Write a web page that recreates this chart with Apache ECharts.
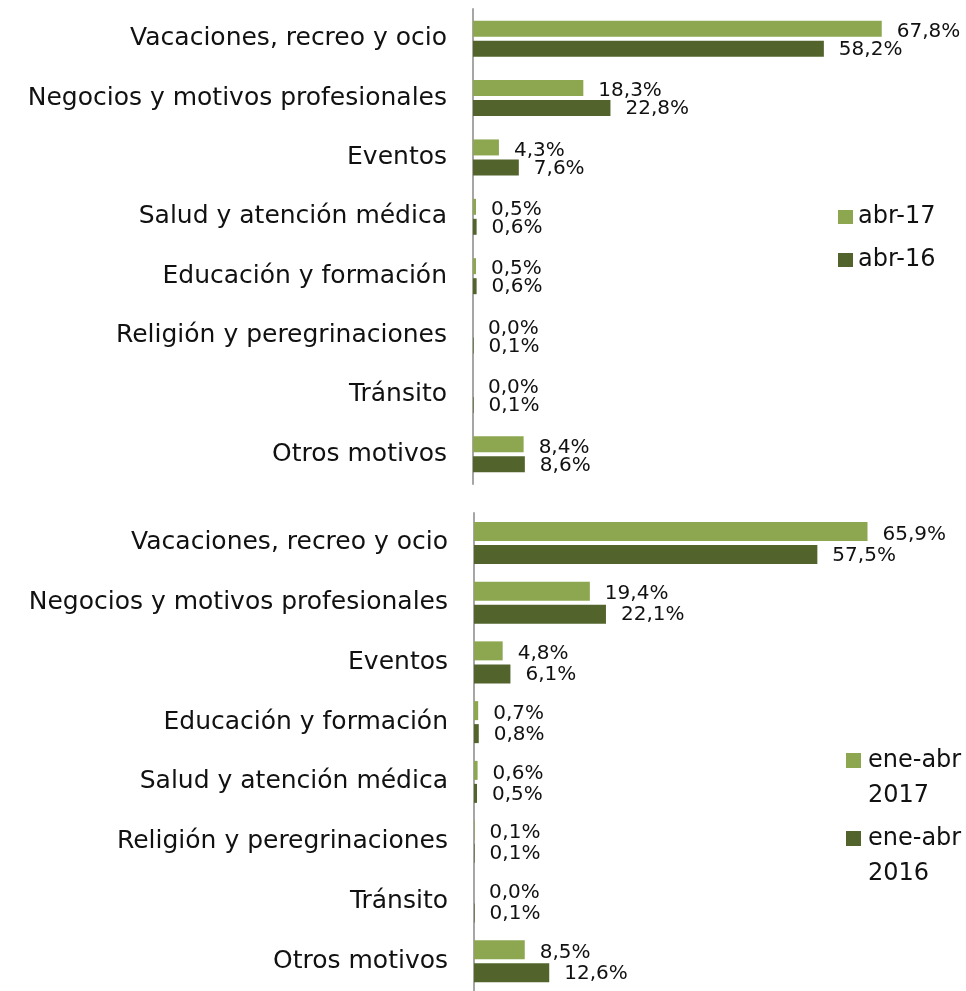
<!DOCTYPE html>
<html>
<head>
<meta charset="utf-8">
<script src="https://cdn.jsdelivr.net/npm/echarts@6/dist/echarts.min.js"></script>
<style>
    html, body {
        margin: 0;
        padding: 0;
        background: #fff;
    }
    #chart {
        width: 966px;
        height: 991px;
    }
</style>
</head>
<body>
<div id="chart"></div>
<script>
    // categorías (de arriba a abajo)
    var catAbril = ['Vacaciones, recreo y ocio', 'Negocios y motivos profesionales', 'Eventos',
        'Salud y atención médica', 'Educación y formación', 'Religión y peregrinaciones', 'Tránsito', 'Otros motivos']
    var catAcum = ['Vacaciones, recreo y ocio', 'Negocios y motivos profesionales', 'Eventos',
        'Educación y formación', 'Salud y atención médica', 'Religión y peregrinaciones', 'Tránsito', 'Otros motivos']

    // nombres de series
    var seriesAbril = ['abr-17', 'abr-16']
    var seriesAcum = ['ene-abr 2017', 'ene-abr 2016']

    // valores (%)
    var abr17 = [67.8, 18.3, 4.3, 0.5, 0.5, 0.0, 0.0, 8.4]
    var abr16 = [58.2, 22.8, 7.6, 0.6, 0.6, 0.1, 0.1, 8.6]
    var eneAbr17 = [65.9, 19.4, 4.8, 0.7, 0.6, 0.1, 0.0, 8.5]
    var eneAbr16 = [57.5, 22.1, 6.1, 0.8, 0.5, 0.1, 0.1, 12.6]

    var claro = '#8ca750'
    var oscuro = '#52642c'
    var fuente = 'DejaVu Sans'

    function etiqueta (dy) {
        return {
            show: true,
            position: 'right',
            distance: 15,
            offset: [0, dy],
            color: '#111',
            fontFamily: fuente,
            fontSize: 20,
            formatter: function (p) {
                return p.value.toFixed(1).replace('.', ',') + '%'
            }
        }
    }

    function ejeY (idx, cats) {
        return {
            type: 'category',
            gridIndex: idx,
            data: cats,
            inverse: true,
            axisTick: {show: false},
            axisLine: {lineStyle: {color: '#a6a6a6', width: 2}},
            axisLabel: {
                margin: 26,
                color: '#111',
                fontFamily: fuente,
                fontSize: 25,
                padding: [6, 0, 0, 0]
            }
        }
    }

    function ejeX (idx) {
        return {
            type: 'value',
            gridIndex: idx,
            min: 0,
            max: 70,
            show: false
        }
    }

    function barra (name, data, idx, color, w, dy) {
        return {
            name: name,
            type: 'bar',
            xAxisIndex: idx,
            yAxisIndex: idx,
            data: data,
            barWidth: w,
            barGap: (4 / w * 100) + '%',
            itemStyle: {color: color},
            label: etiqueta(dy),
            animation: false
        }
    }

    var textoLeyenda = {
        color: '#111',
        fontFamily: fuente,
        fontSize: 24
    }

    // leyenda de dos líneas, con la primera línea a la altura del cuadrado
    function leyendaAcum (name, top) {
        return {
            data: [name],
            orient: 'vertical',
            left: 846,
            top: top,
            padding: 0,
            itemWidth: 15,
            itemHeight: 15,
            icon: 'rect',
            formatter: function (n) { return '\n' + n.replace(' ', '\n') },
            textStyle: Object.assign({lineHeight: 35, padding: [0, 0, 0, 2]}, textoLeyenda)
        }
    }

    var chart = echarts.init(document.getElementById('chart'))
    chart.setOption({
        backgroundColor: '#fff',
        animation: false,
        grid: [
            {left: 473, top: 9, width: 422, height: 475},
            {left: 474, top: 513, width: 418, height: 487}
        ],
        xAxis: [ejeX(0), ejeX(1)],
        yAxis: [ejeY(0, catAbril), ejeY(1, catAcum)],
        legend: [
            {
                data: seriesAbril,
                orient: 'vertical',
                left: 838,
                top: 204,
                padding: 0,
                itemWidth: 15,
                itemHeight: 14,
                itemGap: 17,
                icon: 'rect',
                textStyle: Object.assign({lineHeight: 26}, textoLeyenda)
            },
            leyendaAcum(seriesAcum[0], 708),
            leyendaAcum(seriesAcum[1], 786)
        ],
        series: [
            barra(seriesAbril[0], abr17, 0, claro, 16, 3),
            barra(seriesAbril[1], abr16, 0, oscuro, 16, 1),
            barra(seriesAcum[0], eneAbr17, 1, claro, 19, 3),
            barra(seriesAcum[1], eneAbr16, 1, oscuro, 19, 1)
        ]
    })
</script>
</body>
</html>
